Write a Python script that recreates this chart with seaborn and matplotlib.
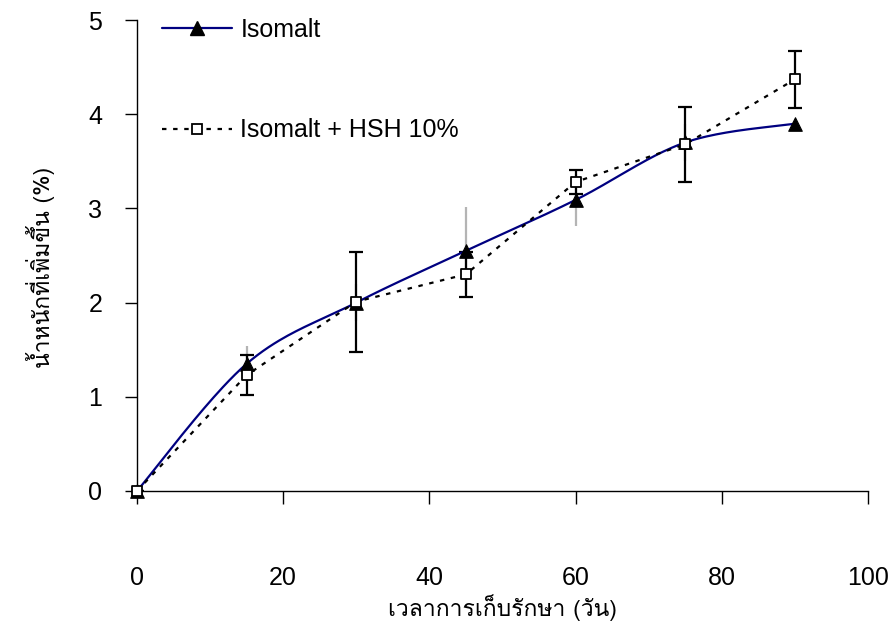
import numpy as np
import pandas as pd
import matplotlib
matplotlib.use("Agg")
import matplotlib.pyplot as plt
import seaborn as sns
from matplotlib import font_manager as fm
from matplotlib.lines import Line2D

# ---------------- data ----------------
days = [0, 15, 30, 45, 60, 75, 90]
isomalt = [0.00, 1.35, 2.00, 2.55, 3.09, 3.70, 3.90]
isomalt_err = [0.00, 0.19, 0.20, 0.46, 0.28, 0.20, 0.00]
hsh = [0.00, 1.23, 2.01, 2.30, 3.28, 3.68, 4.37]
hsh_err = [0.00, 0.21, 0.53, 0.24, 0.13, 0.40, 0.30]
series_names = ["Isomalt", "Isomalt + HSH 10%"]
x_ticks = [0, 20, 40, 60, 80, 100]
y_ticks = [0, 1, 2, 3, 4, 5]
x_label = "เวลาการเก็บรักษา (วัน)"
y_label = "น้ำหนักที่เพิ่มขึ้น (%)"

# ---------------- fonts ----------------
sns.set_theme(style="white")
names = {f.name for f in fm.fontManager.ttflist}
latin = [n for n in ["Liberation Sans Narrow", "Liberation Sans", "DejaVu Sans"] if n in names]

thai_font = None
try:
    from fontTools.ttLib import TTFont
    for f in fm.fontManager.ttflist:
        try:
            tt = TTFont(f.fname, fontNumber=0, lazy=True)
            cmap = tt.getBestCmap()
            if cmap and 0x0E40 in cmap and 0x0E19 in cmap and 0x0E49 in cmap:
                thai_font = f.name
                break
        except Exception:
            continue
except Exception:
    pass

plt.rcParams["font.family"] = latin
for k in ["text.color", "axes.labelcolor", "xtick.color", "ytick.color"]:
    plt.rcParams[k] = "black"
thai_family = ([thai_font] if thai_font else []) + latin

FS = 18

# ---------------- smoothing (Excel-style Bezier through the data points) ----------------
def smooth(xs, ys, n=40):
    P = np.column_stack([xs, ys]).astype(float)
    out = []
    for i in range(len(P) - 1):
        p0 = P[i - 1] if i > 0 else P[i]
        p1, p2 = P[i], P[i + 1]
        p3 = P[i + 2] if i + 2 < len(P) else P[i + 1]
        c1 = p1 + (p2 - p0) / 6.0
        c2 = p2 - (p3 - p1) / 6.0
        t = np.linspace(0, 1, n, endpoint=(i == len(P) - 2))[:, None]
        out.append((1 - t) ** 3 * p1 + 3 * (1 - t) ** 2 * t * c1 + 3 * (1 - t) * t ** 2 * c2 + t ** 3 * p2)
    return np.vstack(out)

curve = smooth(days, isomalt)
df_curve = pd.DataFrame({"day": curve[:, 0], "gain": curve[:, 1]})
df_iso = pd.DataFrame({"day": days, "gain": isomalt})
df_hsh = pd.DataFrame({"day": days, "gain": hsh})

# ---------------- figure ----------------
fig = plt.figure(figsize=(8.94, 6.37), dpi=100)
ax = fig.add_axes([0.1532, 0.2292, 0.8177, 0.7394])

navy = "#000080"
ax.errorbar(days, isomalt, yerr=isomalt_err, fmt="none", ecolor="#b4b4b4",
            elinewidth=1.6, capsize=0, zorder=2)
ax.errorbar(days, hsh, yerr=hsh_err, fmt="none", ecolor="black",
            elinewidth=1.6, capsize=4.7, capthick=1.6, zorder=3)

sns.lineplot(data=df_curve, x="day", y="gain", ax=ax, color=navy, lw=1.6,
             estimator=None, sort=False, zorder=4)
sns.lineplot(data=df_hsh, x="day", y="gain", ax=ax, color="black", lw=1.6,
             linestyle=(0, (2, 3)), estimator=None, zorder=4)
sns.scatterplot(data=df_iso, x="day", y="gain", ax=ax, marker="^", s=95,
                color="black", edgecolor="black", linewidth=0.8, zorder=5,
                clip_on=False)
sns.scatterplot(data=df_hsh, x="day", y="gain", ax=ax, marker="s", s=60,
                color="white", edgecolor="black", linewidth=1.3, zorder=6,
                clip_on=False)

ax.set_xlim(0, 100)
ax.set_ylim(0, 5)
ax.set_xticks(x_ticks)
ax.set_yticks(y_ticks)
ax.set_xticklabels([str(v) for v in x_ticks], fontsize=FS)
ax.set_yticklabels([str(v) for v in y_ticks], fontsize=FS)
ax.tick_params(axis="x", direction="out", length=9, width=1, color="black", pad=45, bottom=True)
ax.tick_params(axis="y", direction="out", length=9, width=1, color="black", pad=16, left=True)

for s in ["top", "right"]:
    ax.spines[s].set_visible(False)
for s in ["left", "bottom"]:
    ax.spines[s].set_color("black")
    ax.spines[s].set_linewidth(1.0)
ax.grid(False)

ax.set_xlabel(x_label, fontsize=16.5, family=thai_family)
ax.set_ylabel(y_label, fontsize=16.5, family=thai_family)
ax.xaxis.set_label_coords(0.5, -0.22)
ax.yaxis.set_label_coords(-0.112, 0.475)

handles = [
    Line2D([], [], color=navy, lw=1.6, marker="^", markersize=9.5,
           markerfacecolor="black", markeredgecolor="black"),
    Line2D([], [], color="black", lw=1.6, linestyle=(0, (2, 3)), marker="s",
           markersize=7.5, markerfacecolor="white", markeredgecolor="black",
           markeredgewidth=1.3),
]
ax.legend(handles, series_names, loc="upper left", bbox_to_anchor=(0.02, 1.025),
          frameon=False, fontsize=FS, handlelength=2.8, handletextpad=0.35,
          labelspacing=3.05, borderaxespad=0)

fig.savefig("out.png", dpi=100, facecolor="white")
